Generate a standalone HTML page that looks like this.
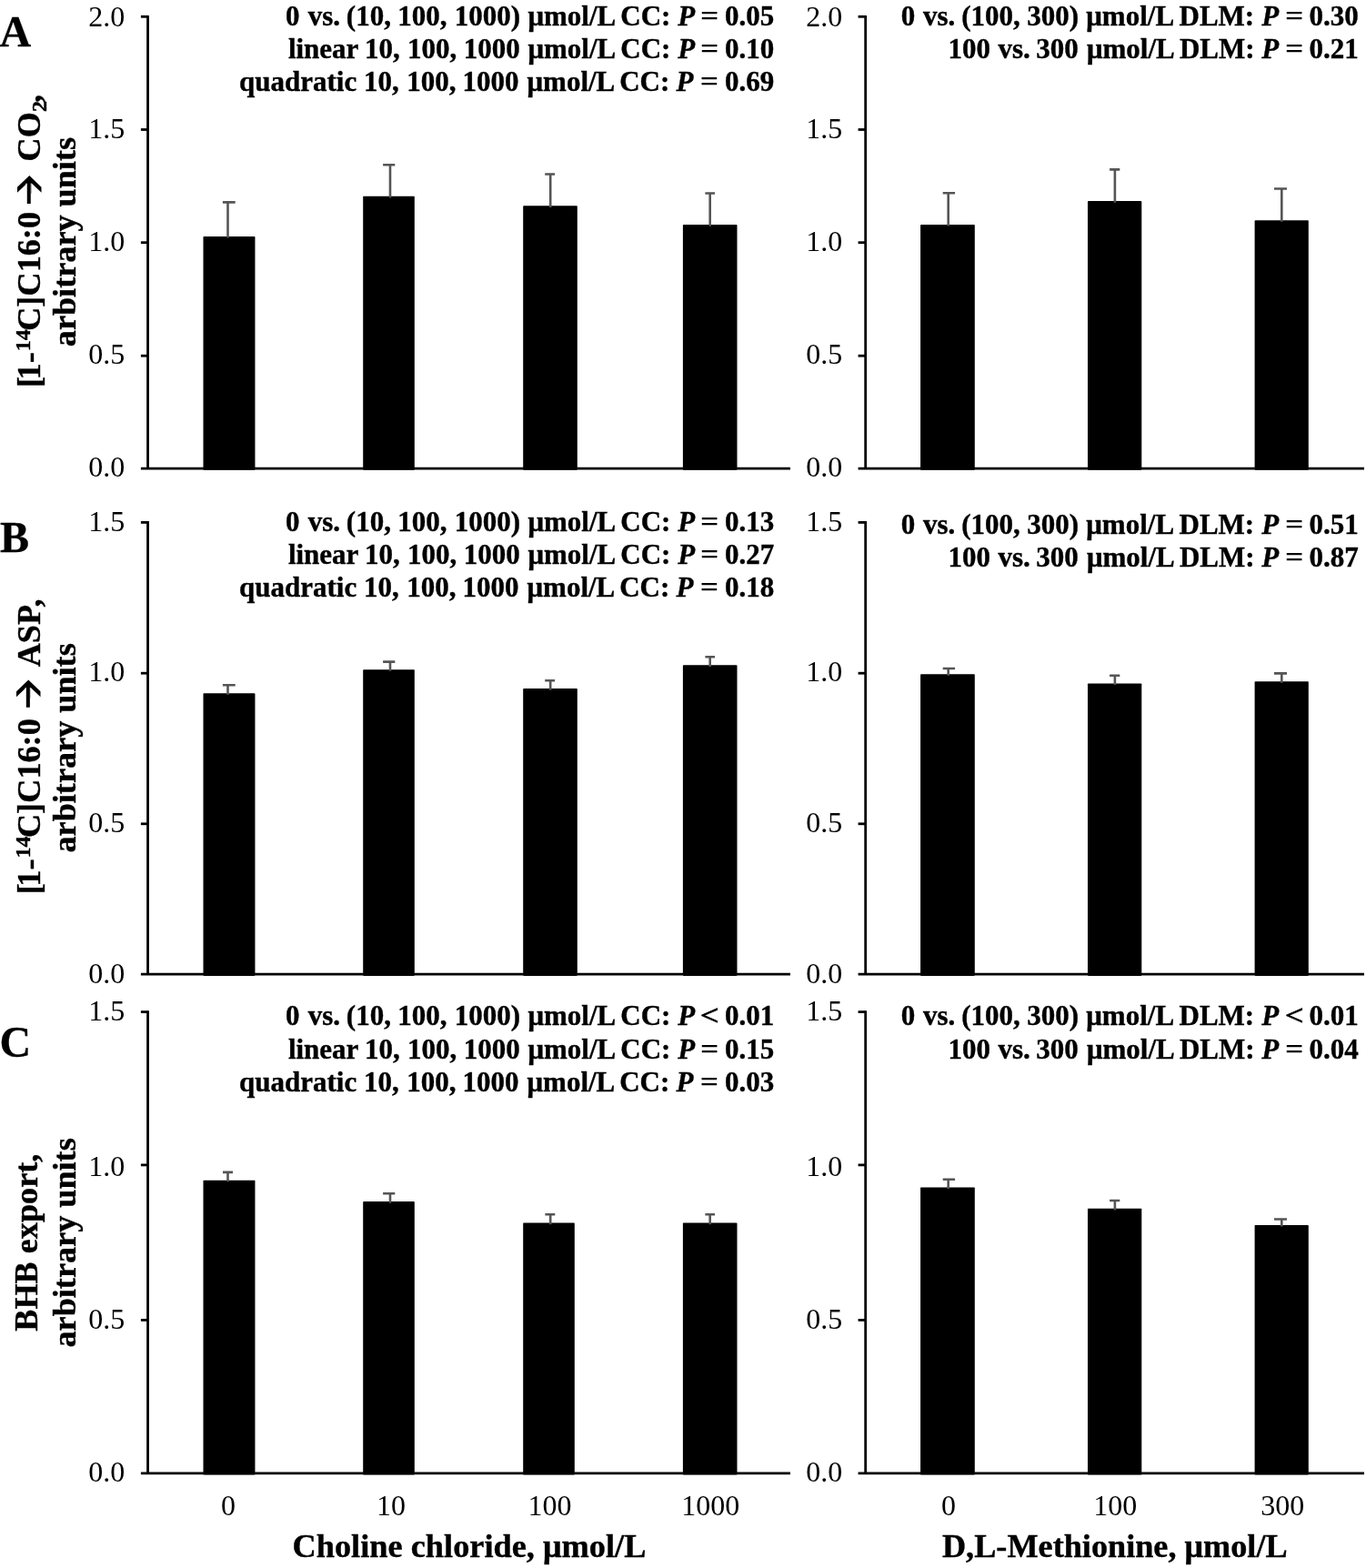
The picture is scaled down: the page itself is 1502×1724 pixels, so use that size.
<!DOCTYPE html>
<html lang="en">
<head>
<meta charset="utf-8">
<title>Figure</title>
<style>
html,body{margin:0;padding:0;background:#fff;}
body{width:1502px;height:1724px;overflow:hidden;}
svg{display:block;}
text{font-family:"Liberation Serif","DejaVu Serif",serif;fill:#000;white-space:pre;}
.ax{stroke:#000;stroke-width:2.8;fill:none;}
.er{stroke:#555;stroke-width:2.6;fill:none;}
.br{fill:#000;}
.tk{font-size:32px;}
.an{font-size:31.0px;font-weight:bold;stroke:#000;stroke-width:0.4px;}
.pi{font-style:italic;}
.eq{stroke:none;}
.rg{font-weight:normal;stroke:#000;stroke-width:0.9px;}
.tt{font-size:36.2px;font-weight:bold;stroke:#000;stroke-width:0.4px;}
.lt{font-size:48px;font-weight:bold;stroke:#000;stroke-width:0.3px;}
.ss{font-size:24px;}
.arr{font-family:"IPAGothic","DejaVu Sans",sans-serif;font-weight:normal;font-size:64px;}
</style>
</head>
<body>
<svg width="1502" height="1724" viewBox="0 0 1502 1724">
<rect x="0" y="0" width="1502" height="1724" fill="#fff"/>
<g id="panel-A">
<rect x="223.50" y="260.00" width="56.95" height="256.80" rx="0.8" class="br"/>
<path d="M250.50 261.60V222.40M244.90 222.40H258.70" class="er"/>
<rect x="399.20" y="215.80" width="56.60" height="301.00" rx="0.8" class="br"/>
<path d="M429.00 217.40V181.30M421.10 181.30H434.30" class="er"/>
<rect x="575.20" y="226.30" width="59.60" height="290.50" rx="0.8" class="br"/>
<path d="M605.20 227.90V191.50M599.20 191.50H610.10" class="er"/>
<rect x="750.90" y="247.10" width="59.60" height="269.70" rx="0.8" class="br"/>
<path d="M780.70 248.70V212.50M775.40 212.50H786.00" class="er"/>
<rect x="1012.10" y="247.00" width="59.70" height="269.80" rx="0.8" class="br"/>
<path d="M1042.70 248.60V212.30M1036.70 212.30H1050.10" class="er"/>
<rect x="1196.00" y="221.10" width="59.30" height="295.70" rx="0.8" class="br"/>
<path d="M1225.90 222.70V186.40M1220.10 186.40H1231.30" class="er"/>
<rect x="1379.60" y="242.20" width="59.20" height="274.60" rx="0.8" class="br"/>
<path d="M1409.30 243.80V207.50M1401.00 207.50H1415.00" class="er"/>
<path d="M162.55 16.90V515.10" class="ax"/>
<path d="M154.90 515.10H869.00" class="ax"/>
<path d="M154.90 391.20H162.55" class="ax"/>
<path d="M154.90 266.70H162.55" class="ax"/>
<path d="M154.90 142.50H162.55" class="ax"/>
<path d="M154.90 18.30H162.55" class="ax"/>
<path d="M951.70 16.90V515.10" class="ax"/>
<path d="M943.60 515.10H1500.00" class="ax"/>
<path d="M943.60 391.20H951.70" class="ax"/>
<path d="M943.60 266.70H951.70" class="ax"/>
<path d="M943.60 142.50H951.70" class="ax"/>
<path d="M943.60 18.30H951.70" class="ax"/>
<text x="137.3" y="524.4" class="tk" text-anchor="end">0.0</text>
<text x="137.3" y="400.3" class="tk" text-anchor="end">0.5</text>
<text x="137.3" y="276.1" class="tk" text-anchor="end">1.0</text>
<text x="137.3" y="152.1" class="tk" text-anchor="end">1.5</text>
<text x="137.3" y="28.5" class="tk" text-anchor="end">2.0</text>
<text x="926.2" y="524.4" class="tk" text-anchor="end">0.0</text>
<text x="926.2" y="400.3" class="tk" text-anchor="end">0.5</text>
<text x="926.2" y="276.1" class="tk" text-anchor="end">1.0</text>
<text x="926.2" y="152.1" class="tk" text-anchor="end">1.5</text>
<text x="926.2" y="28.5" class="tk" text-anchor="end">2.0</text>
<text y="27.90" class="an"><tspan x="314.12">0</tspan> <tspan x="338.80">vs.</tspan> <tspan x="380.84">(10,</tspan> <tspan x="437.32">100,</tspan> <tspan x="499.82">1000)</tspan> <tspan x="580.41">μmol/L</tspan> <tspan x="682.29">CC:</tspan> <tspan x="745.32" class="pi">P</tspan> <tspan x="770.11" class="eq" textLength="20.44" lengthAdjust="spacingAndGlyphs">=</tspan> <tspan x="797.02">0.05</tspan></text>
<text y="64.00" class="an"><tspan x="316.89">linear</tspan> <tspan x="401.02">10,</tspan> <tspan x="447.92">100,</tspan> <tspan x="509.72">1000</tspan> <tspan x="580.41">μmol/L</tspan> <tspan x="682.29">CC:</tspan> <tspan x="745.32" class="pi">P</tspan> <tspan x="770.11" class="eq" textLength="20.44" lengthAdjust="spacingAndGlyphs">=</tspan> <tspan x="797.02">0.10</tspan></text>
<text y="99.90" class="an"><tspan x="263.03">quadratic</tspan> <tspan x="400.02">10,</tspan> <tspan x="447.22">100,</tspan> <tspan x="508.42">1000</tspan> <tspan x="579.51">μmol/L</tspan> <tspan x="681.19">CC:</tspan> <tspan x="743.62" class="pi">P</tspan> <tspan x="769.81" class="eq" textLength="20.44" lengthAdjust="spacingAndGlyphs">=</tspan> <tspan x="797.02">0.69</tspan></text>
<text y="28.00" class="an"><tspan x="990.82">0</tspan> <tspan x="1014.90">vs.</tspan> <tspan x="1057.24">(100,</tspan> <tspan x="1129.33">300)</tspan> <tspan x="1194.31">μmol/L</tspan> <tspan x="1296.56">DLM:</tspan> <tspan x="1387.32" class="pi">P</tspan> <tspan x="1413.11" class="eq" textLength="20.44" lengthAdjust="spacingAndGlyphs">=</tspan> <tspan x="1439.52">0.30</tspan></text>
<text y="64.00" class="an"><tspan x="1042.52">100</tspan> <tspan x="1097.40">vs.</tspan> <tspan x="1139.33">300</tspan> <tspan x="1194.91">μmol/L</tspan> <tspan x="1296.96">DLM:</tspan> <tspan x="1387.32" class="pi">P</tspan> <tspan x="1413.11" class="eq" textLength="20.44" lengthAdjust="spacingAndGlyphs">=</tspan> <tspan x="1439.52">0.21</tspan></text>
<text transform="rotate(-90)" class="tt"><tspan x="-426.04" y="44.20">[</tspan><tspan x="-417.40" y="44.20">1-</tspan><tspan x="-386.32" y="32.60" class="ss">14</tspan><tspan x="-363.87" y="44.20">C]</tspan><tspan x="-325.47" y="44.20">C16:0</tspan> </text>
<clipPath id="ac193"><rect x="15.60" y="192.00" width="32" height="9.45"/><rect x="29.45" y="201.45" width="4.30" height="22.45"/><rect x="15.60" y="201.45" width="12.90" height="11.35"/><rect x="34.70" y="201.45" width="12.90" height="11.35"/></clipPath>
<g clip-path="url(#ac193)"><text transform="translate(59.67 246.72) rotate(-90) scale(0.8847 1.1545)" class="arr">→</text></g>
<text transform="rotate(-90)" class="tt"> <tspan x="-177.47" y="44.20">CO</tspan><tspan x="-123.01" y="51.00" class="ss">2</tspan><tspan x="-112.88" y="44.20">,</tspan></text>
<text transform="rotate(-90)" x="-381.17" y="83.0" class="tt">arbitrary units</text>
<text x="-0.47" y="51.1" class="lt">A</text>
</g>
<g id="panel-B">
<rect x="223.50" y="762.20" width="56.95" height="310.70" rx="0.8" class="br"/>
<path d="M250.50 763.80V753.30M244.90 753.30H258.70" class="er"/>
<rect x="399.20" y="736.20" width="56.60" height="336.70" rx="0.8" class="br"/>
<path d="M429.00 737.80V727.60M421.10 727.60H434.30" class="er"/>
<rect x="575.20" y="757.10" width="59.60" height="315.80" rx="0.8" class="br"/>
<path d="M605.20 758.70V748.20M599.20 748.20H610.10" class="er"/>
<rect x="750.90" y="731.30" width="59.60" height="341.60" rx="0.8" class="br"/>
<path d="M780.70 732.90V722.20M775.40 722.20H786.00" class="er"/>
<rect x="1012.10" y="741.20" width="59.70" height="331.70" rx="0.8" class="br"/>
<path d="M1042.70 742.80V735.00M1036.70 735.00H1050.10" class="er"/>
<rect x="1196.00" y="751.50" width="59.30" height="321.40" rx="0.8" class="br"/>
<path d="M1225.90 753.10V742.70M1220.10 742.70H1231.30" class="er"/>
<rect x="1379.60" y="749.20" width="59.20" height="323.70" rx="0.8" class="br"/>
<path d="M1409.30 750.80V740.40M1401.00 740.40H1415.00" class="er"/>
<path d="M162.55 573.00V1071.20" class="ax"/>
<path d="M154.90 1071.20H869.00" class="ax"/>
<path d="M154.90 905.80H162.55" class="ax"/>
<path d="M154.90 740.20H162.55" class="ax"/>
<path d="M154.90 574.40H162.55" class="ax"/>
<path d="M951.70 573.00V1071.20" class="ax"/>
<path d="M943.60 1071.20H1500.00" class="ax"/>
<path d="M943.60 905.80H951.70" class="ax"/>
<path d="M943.60 740.20H951.70" class="ax"/>
<path d="M943.60 574.40H951.70" class="ax"/>
<text x="137.3" y="1081.0" class="tk" text-anchor="end">0.0</text>
<text x="137.3" y="915.1" class="tk" text-anchor="end">0.5</text>
<text x="137.3" y="749.3" class="tk" text-anchor="end">1.0</text>
<text x="137.3" y="584.3" class="tk" text-anchor="end">1.5</text>
<text x="926.2" y="1081.0" class="tk" text-anchor="end">0.0</text>
<text x="926.2" y="915.1" class="tk" text-anchor="end">0.5</text>
<text x="926.2" y="749.3" class="tk" text-anchor="end">1.0</text>
<text x="926.2" y="584.3" class="tk" text-anchor="end">1.5</text>
<text y="584.00" class="an"><tspan x="314.12">0</tspan> <tspan x="338.80">vs.</tspan> <tspan x="380.84">(10,</tspan> <tspan x="437.32">100,</tspan> <tspan x="499.82">1000)</tspan> <tspan x="580.41">μmol/L</tspan> <tspan x="682.29">CC:</tspan> <tspan x="745.32" class="pi">P</tspan> <tspan x="770.11" class="eq" textLength="20.44" lengthAdjust="spacingAndGlyphs">=</tspan> <tspan x="797.02">0.13</tspan></text>
<text y="619.80" class="an"><tspan x="316.89">linear</tspan> <tspan x="401.02">10,</tspan> <tspan x="447.92">100,</tspan> <tspan x="509.72">1000</tspan> <tspan x="580.41">μmol/L</tspan> <tspan x="682.29">CC:</tspan> <tspan x="745.32" class="pi">P</tspan> <tspan x="770.11" class="eq" textLength="20.44" lengthAdjust="spacingAndGlyphs">=</tspan> <tspan x="797.02">0.27</tspan></text>
<text y="655.90" class="an"><tspan x="263.03">quadratic</tspan> <tspan x="400.02">10,</tspan> <tspan x="447.22">100,</tspan> <tspan x="508.42">1000</tspan> <tspan x="579.51">μmol/L</tspan> <tspan x="681.19">CC:</tspan> <tspan x="743.62" class="pi">P</tspan> <tspan x="769.81" class="eq" textLength="20.44" lengthAdjust="spacingAndGlyphs">=</tspan> <tspan x="797.02">0.18</tspan></text>
<text y="587.10" class="an"><tspan x="990.82">0</tspan> <tspan x="1014.90">vs.</tspan> <tspan x="1057.24">(100,</tspan> <tspan x="1129.33">300)</tspan> <tspan x="1194.31">μmol/L</tspan> <tspan x="1296.56">DLM:</tspan> <tspan x="1387.32" class="pi">P</tspan> <tspan x="1413.11" class="eq" textLength="20.44" lengthAdjust="spacingAndGlyphs">=</tspan> <tspan x="1439.52">0.51</tspan></text>
<text y="623.00" class="an"><tspan x="1042.52">100</tspan> <tspan x="1097.40">vs.</tspan> <tspan x="1139.33">300</tspan> <tspan x="1194.91">μmol/L</tspan> <tspan x="1296.96">DLM:</tspan> <tspan x="1387.32" class="pi">P</tspan> <tspan x="1413.11" class="eq" textLength="20.44" lengthAdjust="spacingAndGlyphs">=</tspan> <tspan x="1439.52">0.87</tspan></text>
<text transform="rotate(-90)" class="tt"><tspan x="-983.29" y="44.20">[</tspan><tspan x="-974.65" y="44.20">1-</tspan><tspan x="-943.57" y="32.60" class="ss">14</tspan><tspan x="-921.12" y="44.20">C]</tspan><tspan x="-882.72" y="44.20">C16:0</tspan> </text>
<clipPath id="ac747"><rect x="14.70" y="746.65" width="32" height="9.45"/><rect x="28.55" y="756.10" width="4.30" height="21.70"/><rect x="14.70" y="756.10" width="12.90" height="11.35"/><rect x="33.80" y="756.10" width="12.90" height="11.35"/></clipPath>
<g clip-path="url(#ac747)"><text transform="translate(58.77 801.37) rotate(-90) scale(0.8847 1.1545)" class="arr">→</text></g>
<text transform="rotate(-90)" class="tt"> <tspan x="-733.35" y="44.20">ASP</tspan><tspan x="-667.58" y="44.20">,</tspan></text>
<text transform="rotate(-90)" x="-937.47" y="83.0" class="tt">arbitrary units</text>
<text x="0.00" y="607.1" class="lt">B</text>
</g>
<g id="panel-C">
<rect x="223.50" y="1297.70" width="56.95" height="323.80" rx="0.8" class="br"/>
<path d="M250.50 1299.30V1288.90M245.00 1288.90H256.00" class="er"/>
<rect x="399.20" y="1321.10" width="56.60" height="300.40" rx="0.8" class="br"/>
<path d="M429.00 1322.70V1312.30M421.10 1312.30H434.30" class="er"/>
<rect x="575.20" y="1344.60" width="56.60" height="276.90" rx="0.8" class="br"/>
<path d="M605.20 1346.20V1335.30M599.40 1335.30H610.30" class="er"/>
<rect x="750.90" y="1344.60" width="59.60" height="276.90" rx="0.8" class="br"/>
<path d="M780.70 1346.20V1335.30M775.40 1335.30H786.00" class="er"/>
<rect x="1012.10" y="1305.50" width="59.70" height="316.00" rx="0.8" class="br"/>
<path d="M1042.70 1307.10V1296.70M1036.70 1296.70H1050.10" class="er"/>
<rect x="1196.00" y="1328.80" width="59.30" height="292.70" rx="0.8" class="br"/>
<path d="M1225.90 1330.40V1320.00M1220.10 1320.00H1231.30" class="er"/>
<rect x="1379.60" y="1347.00" width="59.20" height="274.50" rx="0.8" class="br"/>
<path d="M1409.30 1348.60V1340.50M1401.00 1340.50H1415.00" class="er"/>
<path d="M162.55 1111.20V1619.80" class="ax"/>
<path d="M154.90 1619.80H869.00" class="ax"/>
<path d="M154.90 1451.40H162.55" class="ax"/>
<path d="M154.90 1280.90H162.55" class="ax"/>
<path d="M154.90 1112.60H162.55" class="ax"/>
<path d="M951.70 1111.20V1619.80" class="ax"/>
<path d="M943.60 1619.80H1500.00" class="ax"/>
<path d="M943.60 1451.40H951.70" class="ax"/>
<path d="M943.60 1280.90H951.70" class="ax"/>
<path d="M943.60 1112.60H951.70" class="ax"/>
<text x="137.3" y="1629.0" class="tk" text-anchor="end">0.0</text>
<text x="137.3" y="1461.3" class="tk" text-anchor="end">0.5</text>
<text x="137.3" y="1293.1" class="tk" text-anchor="end">1.0</text>
<text x="137.3" y="1122.2" class="tk" text-anchor="end">1.5</text>
<text x="926.2" y="1629.0" class="tk" text-anchor="end">0.0</text>
<text x="926.2" y="1461.3" class="tk" text-anchor="end">0.5</text>
<text x="926.2" y="1293.1" class="tk" text-anchor="end">1.0</text>
<text x="926.2" y="1122.2" class="tk" text-anchor="end">1.5</text>
<text y="1126.90" class="an"><tspan x="314.12">0</tspan> <tspan x="338.80">vs.</tspan> <tspan x="380.84">(10,</tspan> <tspan x="437.32">100,</tspan> <tspan x="499.82">1000)</tspan> <tspan x="580.41">μmol/L</tspan> <tspan x="682.29">CC:</tspan> <tspan x="745.32" class="pi">P</tspan> <tspan x="770.11" class="rg" textLength="20.23" lengthAdjust="spacingAndGlyphs">&lt;</tspan> <tspan x="797.02">0.01</tspan></text>
<text y="1163.70" class="an"><tspan x="316.89">linear</tspan> <tspan x="401.02">10,</tspan> <tspan x="447.92">100,</tspan> <tspan x="509.72">1000</tspan> <tspan x="580.41">μmol/L</tspan> <tspan x="682.29">CC:</tspan> <tspan x="745.32" class="pi">P</tspan> <tspan x="770.11" class="eq" textLength="20.44" lengthAdjust="spacingAndGlyphs">=</tspan> <tspan x="797.02">0.15</tspan></text>
<text y="1199.90" class="an"><tspan x="263.03">quadratic</tspan> <tspan x="400.02">10,</tspan> <tspan x="447.22">100,</tspan> <tspan x="508.42">1000</tspan> <tspan x="579.51">μmol/L</tspan> <tspan x="681.19">CC:</tspan> <tspan x="743.62" class="pi">P</tspan> <tspan x="769.81" class="eq" textLength="20.44" lengthAdjust="spacingAndGlyphs">=</tspan> <tspan x="797.02">0.03</tspan></text>
<text y="1127.10" class="an"><tspan x="990.82">0</tspan> <tspan x="1014.90">vs.</tspan> <tspan x="1057.24">(100,</tspan> <tspan x="1129.33">300)</tspan> <tspan x="1194.31">μmol/L</tspan> <tspan x="1296.56">DLM:</tspan> <tspan x="1387.32" class="pi">P</tspan> <tspan x="1413.11" class="rg" textLength="20.23" lengthAdjust="spacingAndGlyphs">&lt;</tspan> <tspan x="1439.52">0.01</tspan></text>
<text y="1163.70" class="an"><tspan x="1042.52">100</tspan> <tspan x="1097.40">vs.</tspan> <tspan x="1139.33">300</tspan> <tspan x="1194.91">μmol/L</tspan> <tspan x="1296.96">DLM:</tspan> <tspan x="1387.32" class="pi">P</tspan> <tspan x="1413.11" class="eq" textLength="20.44" lengthAdjust="spacingAndGlyphs">=</tspan> <tspan x="1439.52">0.04</tspan></text>
<text transform="rotate(-90)" x="-1463.70" y="40.9" class="tt">BHB export,</text>
<text transform="rotate(-90)" x="-1481.47" y="83.0" class="tt">arbitrary units</text>
<text x="-0.54" y="1161.5" class="lt">C</text>
</g>
<text x="242.98" y="1666.3" class="tk">0</text>
<text x="413.99" y="1666.3" class="tk">10</text>
<text x="580.59" y="1666.3" class="tk">100</text>
<text x="749.29" y="1666.3" class="tk">1000</text>
<text x="1035.08" y="1666.3" class="tk">0</text>
<text x="1202.29" y="1666.3" class="tk">100</text>
<text x="1386.17" y="1666.3" class="tk">300</text>
<text x="321.53" y="1712.0" class="tt" style="font-size:36.35px">Choline chloride, μmol/L</text>
<text x="1035.96" y="1712.0" class="tt" style="font-size:36.22px">D,L-Methionine, μmol/L</text>
</svg>
</body>
</html>
